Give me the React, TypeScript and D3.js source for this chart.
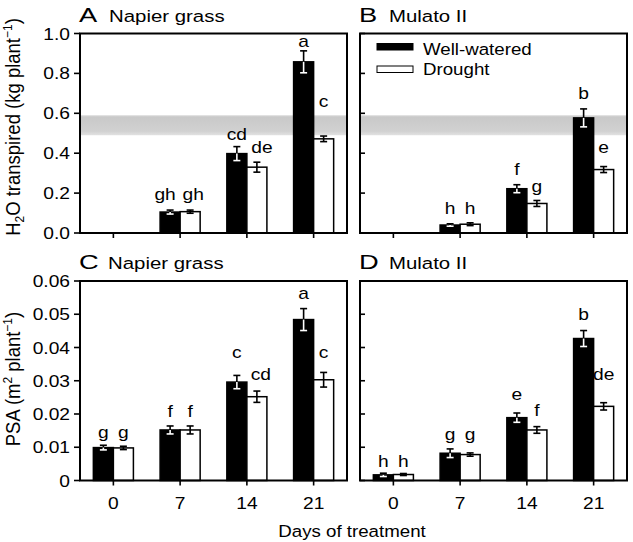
import React from "react";
import * as d3 from "d3";

// ---------- data ----------
const days = ["0", "7", "14", "21"];
const seriesNames = ["Well-watered", "Drought"];

// Transpiration (kg plant-1)
const transNapierWW: (number | null)[] = [null, 0.105, 0.398, 0.858];
const transNapierDR: (number | null)[] = [null, 0.107, 0.33, 0.472];
const transNapierErrWW = [0, 0.01, 0.035, 0.055];
const transNapierErrDR = [0, 0.008, 0.025, 0.014];
const transNapierLetWW = ["", "gh", "cd", "a"];
const transNapierLetDR = ["", "gh", "de", "c"];
const transNapierLetYWW = [0, 0.167, 0.465, 0.934];
const transNapierLetYDR = [0, 0.167, 0.4, 0.633];

const transMulatoWW: (number | null)[] = [null, 0.04, 0.222, 0.577];
const transMulatoDR: (number | null)[] = [null, 0.044, 0.148, 0.318];
const transMulatoErrWW = [0, 0.006, 0.02, 0.045];
const transMulatoErrDR = [0, 0.007, 0.015, 0.015];
const transMulatoLetWW = ["", "h", "f", "b"];
const transMulatoLetDR = ["", "h", "g", "e"];
const transMulatoLetYWW = [0, 0.097, 0.29, 0.67];
const transMulatoLetYDR = [0, 0.097, 0.206, 0.4];

// PSA (m2 plant-1)
const psaNapierWW: (number | null)[] = [0.0099, 0.0152, 0.0296, 0.0484];
const psaNapierDR: (number | null)[] = [0.0098, 0.0152, 0.0252, 0.0303];
const psaNapierErrWW = [0.0007, 0.0012, 0.002, 0.0033];
const psaNapierErrDR = [0.0005, 0.0012, 0.0017, 0.0022];
const psaNapierLetWW = ["g", "f", "c", "a"];
const psaNapierLetDR = ["g", "f", "cd", "c"];
const psaNapierLetYWW = [0.0127, 0.0192, 0.0367, 0.0547];
const psaNapierLetYDR = [0.0127, 0.0192, 0.0302, 0.0367];

const psaMulatoWW: (number | null)[] = [0.0017, 0.0082, 0.0189, 0.0427];
const psaMulatoDR: (number | null)[] = [0.0018, 0.0078, 0.0152, 0.0223];
const psaMulatoErrWW = [0.0005, 0.0013, 0.0014, 0.0024];
const psaMulatoErrDR = [0.0003, 0.0005, 0.001, 0.0011];
const psaMulatoLetWW = ["h", "g", "e", "b"];
const psaMulatoLetDR = ["h", "g", "f", "de"];
const psaMulatoLetYWW = [0.0042, 0.0122, 0.0242, 0.0482];
const psaMulatoLetYDR = [0.0042, 0.0122, 0.0194, 0.0302];

const transTicks = [0, 0.2, 0.4, 0.6, 0.8, 1.0];
const psaTicks = [0, 0.01, 0.02, 0.03, 0.04, 0.05, 0.06];
const shadedRange = [0.49, 0.59];

// ---------- layout ----------
const FONT = "Arial, 'Liberation Sans', Helvetica, sans-serif";
const SX = 1.2;

type PanelProps = {
  left: number;
  top: number;
  width: number;
  height: number;
  domain: [number, number];
  ticks: number[];
  tickFmt: (v: number) => string;
  showYLabels: boolean;
  showXLabels: boolean;
  ww: (number | null)[];
  dr: (number | null)[];
  errWW: number[];
  errDR: number[];
  letWW: string[];
  letDR: string[];
  letYWW: number[];
  letYDR: number[];
  nudgeWW?: number[];
  nudgeDR?: number[];
  band?: number[];
  letter: string;
  name: string;
  gid: string;
};

function T({ x, y, anchor = "start", size = 16, sx = SX, children }: any) {
  return (
    <text
      transform={`translate(${x},${y}) scale(${sx},1)`}
      textAnchor={anchor}
      fontSize={size}
      fontFamily={FONT}
      fill="#000"
    >
      {children}
    </text>
  );
}

function Panel(p: PanelProps) {
  const x = d3
    .scaleBand<string>()
    .domain(days)
    .range([p.left, p.left + p.width])
    .paddingInner(0.4)
    .paddingOuter(0.2);
  const xs = d3.scaleBand<string>().domain(seriesNames).range([0, x.bandwidth()]);
  const y = d3.scaleLinear().domain(p.domain).range([p.top + p.height, p.top]);
  const bottom = p.top + p.height;
  const tickLen = 5;

  const bars: any[] = [];
  const errs: any[] = [];
  const labels: any[] = [];
  days.forEach((d, i) => {
    [
      { s: seriesNames[0], v: p.ww[i], e: p.errWW[i], l: p.letWW[i], ly: p.letYWW[i], fill: "#000", n: p.nudgeWW ? p.nudgeWW[i] : 0 },
      { s: seriesNames[1], v: p.dr[i], e: p.errDR[i], l: p.letDR[i], ly: p.letYDR[i], fill: "#fff", n: p.nudgeDR ? p.nudgeDR[i] : 0 },
    ].forEach((b, j) => {
      if (b.v == null) return;
      const bx = (x(d) as number) + (xs(b.s) as number);
      const bw = xs.bandwidth();
      const cx = bx + bw / 2;
      bars.push(
        <rect
          key={`b${i}${j}`}
          x={bx}
          y={y(b.v)}
          width={bw}
          height={bottom - y(b.v)}
          fill={b.fill}
          stroke="#000"
          strokeWidth={1.5}
        />
      );
      const yt = y(b.v + b.e);
      const yb = y(Math.max(0, b.v - b.e));
      const yv = y(b.v);
      const inner = j === 0 ? "#fff" : "#000";
      const cw = 3.5;
      errs.push(
        <g key={`e${i}${j}`} strokeWidth={1.6} fill="none">
          <line x1={cx} x2={cx} y1={yt} y2={yv} stroke="#000" />
          <line x1={cx - cw} x2={cx + cw} y1={yt} y2={yt} stroke="#000" />
          <line x1={cx} x2={cx} y1={yv} y2={yb} stroke={inner} />
          <line x1={cx - cw} x2={cx + cw} y1={yb} y2={yb} stroke={inner} />
        </g>
      );
      if (b.l) {
        labels.push(
          <T key={`l${i}${j}`} x={cx + (b.n || 0)} y={y(b.ly)} anchor="middle" size={16}>
            {b.l}
          </T>
        );
      }
    });
  });

  return (
    <g>
      {p.band && (
        <>
          <defs>
            <linearGradient id={p.gid} x1="0" y1="0" x2="0" y2="1">
              <stop offset="0" stopColor="#d6d6d6" />
              <stop offset="0.1" stopColor="#c9c9c9" />
              <stop offset="0.8" stopColor="#d1d1d1" />
              <stop offset="1" stopColor="#e2e2e2" />
            </linearGradient>
          </defs>
          <rect
            x={p.left}
            y={y(p.band[1])}
            width={p.width}
            height={y(p.band[0]) - y(p.band[1])}
            fill={`url(#${p.gid})`}
          />
        </>
      )}
      {bars}
      {errs}
      {labels}
      <rect x={p.left} y={p.top} width={p.width} height={p.height} fill="none" stroke="#000" strokeWidth={2} />
      {p.ticks.map((t) => (
        <g key={`yt${t}`}>
          <line
            x1={p.showYLabels ? p.left - 6 : p.left}
            x2={p.showYLabels ? p.left : p.left + tickLen}
            y1={y(t)}
            y2={y(t)}
            stroke="#000"
            strokeWidth={1.6}
          />
          {p.showYLabels && (
            <T x={p.left - 10} y={y(t) + 6} anchor="end" size={16}>
              {p.tickFmt(t)}
            </T>
          )}
        </g>
      ))}
      {days.map((d) => {
        const cx = (x(d) as number) + x.bandwidth() / 2;
        return (
          <g key={`xt${d}`}>
            <line x1={cx} x2={cx} y1={bottom} y2={bottom + 5} stroke="#000" strokeWidth={1.6} />
            {p.showXLabels && (
              <T x={cx} y={bottom + 28.5} anchor="middle" size={16}>
                {d}
              </T>
            )}
          </g>
        );
      })}
      <T x={p.left - 1} y={p.top - 12} size={21} sx={1.3}>
        {p.letter}
      </T>
      <T x={p.left + (p.letter === "C" ? 28 : 29)} y={p.top - 12} size={17} sx={1.2}>
        {p.name}
      </T>
    </g>
  );
}

export default function App() {
  const W = 633;
  const H = 542;
  const pw = 267;
  const leftA = 80;
  const leftB = 360;
  const topTop = 33.5;
  const topBot = 281;
  const ph = 199.5;
  const fmt1 = (v: number) => d3.format(".1f")(v);
  const fmt2 = (v: number) => (v === 0 ? "0" : d3.format(".2f")(v));

  return (
    <svg
      width={W}
      height={H}
      viewBox={`0 0 ${W} ${H}`}
      style={{ position: "absolute", left: 0, top: 0, background: "#fff" }}
    >
      <rect x={0} y={0} width={W} height={H} fill="#fff" />
      <Panel
        left={leftA} top={topTop} width={pw} height={ph}
        domain={[0, 1]} ticks={transTicks} tickFmt={fmt1}
        showYLabels={true} showXLabels={false}
        ww={transNapierWW} dr={transNapierDR}
        errWW={transNapierErrWW} errDR={transNapierErrDR}
        letWW={transNapierLetWW} letDR={transNapierLetDR}
        letYWW={transNapierLetYWW} letYDR={transNapierLetYDR}
        nudgeWW={[0, -5, 0, 0]} nudgeDR={[0, 3, 5, 0]}
        band={shadedRange} letter="A" name="Napier grass" gid="gA"
      />
      <Panel
        left={leftB} top={topTop} width={pw} height={ph}
        domain={[0, 1]} ticks={transTicks} tickFmt={fmt1}
        showYLabels={false} showXLabels={false}
        ww={transMulatoWW} dr={transMulatoDR}
        errWW={transMulatoErrWW} errDR={transMulatoErrDR}
        letWW={transMulatoLetWW} letDR={transMulatoLetDR}
        letYWW={transMulatoLetYWW} letYDR={transMulatoLetYDR}
        band={shadedRange} letter="B" name="Mulato II" gid="gB"
      />
      <Panel
        left={leftA} top={topBot} width={pw} height={ph}
        domain={[0, 0.06]} ticks={psaTicks} tickFmt={fmt2}
        showYLabels={true} showXLabels={true}
        ww={psaNapierWW} dr={psaNapierDR}
        errWW={psaNapierErrWW} errDR={psaNapierErrDR}
        letWW={psaNapierLetWW} letDR={psaNapierLetDR}
        letYWW={psaNapierLetYWW} letYDR={psaNapierLetYDR}
        nudgeDR={[0, 0, 4, 0]}
        letter="C" name="Napier grass" gid="gC"
      />
      <Panel
        left={leftB} top={topBot} width={pw} height={ph}
        domain={[0, 0.06]} ticks={psaTicks} tickFmt={fmt2}
        showYLabels={false} showXLabels={true}
        ww={psaMulatoWW} dr={psaMulatoDR}
        errWW={psaMulatoErrWW} errDR={psaMulatoErrDR}
        letWW={psaMulatoLetWW} letDR={psaMulatoLetDR}
        letYWW={psaMulatoLetYWW} letYDR={psaMulatoLetYDR}
        letter="D" name="Mulato II" gid="gD"
      />

      {/* legend */}
      <rect x={377} y={43.5} width={36} height={6.5} fill="#000" stroke="#000" strokeWidth={1} />
      <T x={423} y={55} size={17} sx={1.1}>{seriesNames[0]}</T>
      <rect x={377} y={66} width={36} height={6.5} fill="#fff" stroke="#000" strokeWidth={1} />
      <T x={423} y={74.5} size={17} sx={1.1}>{seriesNames[1]}</T>

      {/* y axis titles */}
      <text
        transform={`translate(19.5,127) scale(1.05,1) rotate(-90)`}
        textAnchor="middle"
        fontSize={18.5}
        fontFamily={FONT}
      >
        <tspan>H</tspan>
        <tspan fontSize={12} dy={4}>2</tspan>
        <tspan dy={-4}>O transpired (kg plant</tspan>
        <tspan fontSize={12} dy={-7}>−1</tspan>
        <tspan dy={7}>)</tspan>
      </text>
      <text
        transform={`translate(19.5,379) scale(1.05,1) rotate(-90)`}
        textAnchor="middle"
        fontSize={18.5}
        fontFamily={FONT}
      >
        <tspan>PSA (m</tspan>
        <tspan fontSize={12} dy={-7}>2</tspan>
        <tspan dy={7}> plant</tspan>
        <tspan fontSize={12} dy={-7}>−1</tspan>
        <tspan dy={7}>)</tspan>
      </text>

      {/* x axis title */}
      <T x={352} y={537} anchor="middle" size={17} sx={1.1}>Days of treatment</T>
    </svg>
  );
}
